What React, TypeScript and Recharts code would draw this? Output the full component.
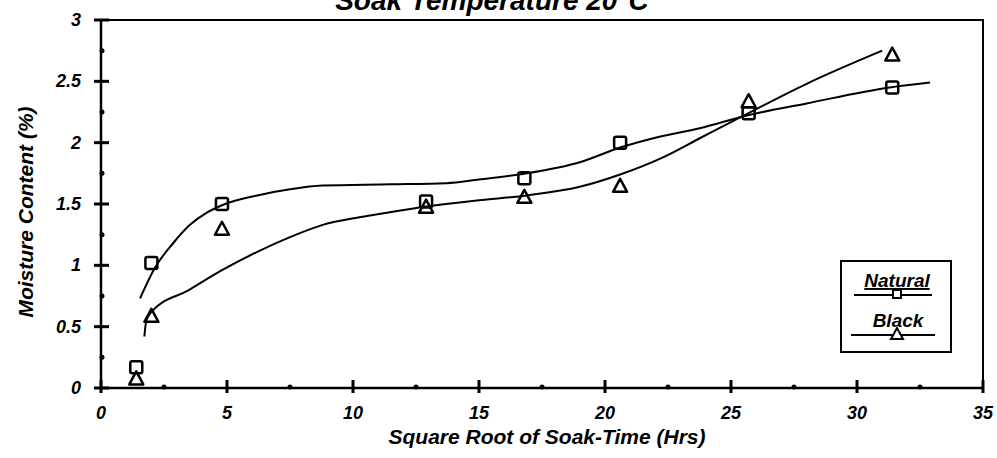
import { ComposedChart, Line, Scatter, XAxis, YAxis, ReferenceArea } from 'recharts'

// measured points (sqrt of soak time, moisture %)
const sampleX = [1.4, 2.0, 4.8, 12.9, 16.8, 20.6, 25.7, 31.4]
const naturalY = [0.17, 1.02, 1.5, 1.52, 1.71, 2.0, 2.24, 2.45]
const blackY = [0.07, 0.58, 1.29, 1.47, 1.55, 1.64, 2.33, 2.71]

// fitted curves
const naturalFitX = [1.55, 2.14, 2.86, 3.53, 4.2, 4.8, 6.2, 7.5, 8.8, 11.5, 13.7, 15.0, 16.9, 19.0, 20.6, 21.8, 23.8, 25.6, 28.0, 31.3, 32.9]
const naturalFitY = [0.73, 0.98, 1.18, 1.33, 1.43, 1.49, 1.57, 1.62, 1.65, 1.66, 1.67, 1.7, 1.75, 1.84, 1.96, 2.03, 2.12, 2.22, 2.32, 2.45, 2.49]
const blackFitX = [1.72, 1.8, 2.0, 3.5, 4.8, 6.2, 7.5, 8.8, 10.2, 11.1, 12.9, 15.0, 16.9, 19.0, 20.6, 22.3, 23.8, 25.4, 28.0, 31.0]
const blackFitY = [0.42, 0.55, 0.62, 0.8, 0.96, 1.11, 1.23, 1.33, 1.39, 1.42, 1.48, 1.53, 1.57, 1.64, 1.74, 1.88, 2.04, 2.21, 2.48, 2.75]

const xTicks = [0, 2.5, 5, 7.5, 10, 12.5, 15, 17.5, 20, 22.5, 25, 27.5, 30, 32.5, 35]
const yTicks = [0, 0.25, 0.5, 0.75, 1, 1.25, 1.5, 1.75, 2, 2.25, 2.5, 2.75, 3]

const natural = sampleX.map((x, i) => ({ x, y: naturalY[i] }))
const black = sampleX.map((x, i) => ({ x, y: blackY[i] }))
const naturalFit = naturalFitX.map((x, i) => ({ x, y: naturalFitY[i] }))
const blackFit = blackFitX.map((x, i) => ({ x, y: blackFitY[i] }))

const FONT = '"Liberation Sans", Arial, sans-serif'
const labelStyle = { fontFamily: FONT, fontWeight: 700, fontStyle: 'italic' as const, fill: '#000' }

const Square = ({ cx, cy }: any) => (
  <rect x={cx - 6} y={cy - 6} width={12} height={12} rx={2} fill="none" stroke="#000" strokeWidth={2.5} />
)

const Triangle = ({ cx, cy }: any) => (
  <polygon points={`${cx},${cy - 8} ${cx + 7},${cy + 5} ${cx - 7},${cy + 5}`} fill="none" stroke="#000" strokeWidth={2.5} strokeLinejoin="round" />
)

// crosses on major ticks, dots on minor ones
const renderYTick = (props: any) => {
  const x = Number(props.x)
  const y = Number(props.y)
  const v = props.payload.value
  const major = v % 0.5 === 0
  return (
    <g key={`yt-${v}`}>
      {major
        ? <rect x={x - 7} y={y - 1.5} width={15} height={3} fill="#000" />
        : <circle cx={x + 1} cy={y} r={2.5} fill="#000" />}
      {major && (
        <text x={x - 20} y={y + 6} textAnchor="end" fontSize={18} {...labelStyle}>
          {v}
        </text>
      )}
    </g>
  )
}

const renderXTick = (props: any) => {
  const x = Number(props.x)
  const y = Number(props.y)
  const v = props.payload.value
  const major = v % 5 === 0
  return (
    <g key={`xt-${v}`}>
      {major
        ? <rect x={x - 1.5} y={y - 8} width={3} height={13} fill="#000" />
        : <circle cx={x} cy={y - 1} r={2.5} fill="#000" />}
      {major && (
        <text x={x} y={y + 31} textAnchor="middle" fontSize={18} {...labelStyle}>
          {v}
        </text>
      )}
    </g>
  )
}

export default function App() {
  return (
    <div style={{ position: 'absolute', left: 0, top: 0, width: 997, height: 458, background: '#fff', overflow: 'hidden' }}>
      <div style={{ position: 'absolute', left: 0, width: 984, top: -13, textAlign: 'center', fontFamily: FONT, fontWeight: 700, fontStyle: 'italic', fontSize: 28, lineHeight: '28px', whiteSpace: 'nowrap' }}>
        Soak Temperature 20°C
      </div>

      <ComposedChart width={997} height={458} margin={{ top: 20, right: 14, bottom: 40, left: 41 }}>
        <ReferenceArea x1={0} x2={35} y1={0} y2={3} fill="none" stroke="#000" strokeWidth={2} />
        <XAxis dataKey="x" type="number" domain={[0, 35]} ticks={xTicks} interval={0} tick={renderXTick} tickLine={false} tickSize={0} tickMargin={0} axisLine={{ stroke: '#000', strokeWidth: 2.5 }} height={30} />
        <YAxis dataKey="y" type="number" domain={[0, 3]} ticks={yTicks} interval={0} tick={renderYTick} tickLine={false} tickSize={0} tickMargin={0} axisLine={{ stroke: '#000', strokeWidth: 2.5 }} width={60} />
        <Line data={naturalFit} dataKey="y" type="monotone" stroke="#000" strokeWidth={2} dot={false} isAnimationActive={false} />
        <Line data={blackFit} dataKey="y" type="monotone" stroke="#000" strokeWidth={2} dot={false} isAnimationActive={false} />
        <Scatter data={natural} dataKey="y" shape={<Square />} isAnimationActive={false} />
        <Scatter data={black} dataKey="y" shape={<Triangle />} isAnimationActive={false} />
      </ComposedChart>

      <div style={{ position: 'absolute', left: 26, top: 212, transform: 'translate(-50%, -50%) rotate(-90deg)', whiteSpace: 'nowrap', fontFamily: FONT, fontWeight: 700, fontStyle: 'italic', fontSize: 21 }}>
        Moisture Content (%)
      </div>
      <div style={{ position: 'absolute', left: 547, top: 437, transform: 'translate(-50%, -50%)', whiteSpace: 'nowrap', fontFamily: FONT, fontWeight: 700, fontStyle: 'italic', fontSize: 21 }}>
        Square Root of Soak-Time (Hrs)
      </div>

      {/* legend */}
      <div style={{ position: 'absolute', left: 840, top: 260, width: 108, height: 89, border: '2px solid #000' }}>
        <svg width={108} height={89} style={{ position: 'absolute', left: 0, top: 0 }}>
          <text x={55} y={25} textAnchor="middle" fontSize={19} textDecoration="underline" {...labelStyle}>Natural</text>
          <line x1={12} x2={90} y1={33} y2={33} stroke="#000" strokeWidth={2} />
          <rect x={51} y={28} width={8} height={8} fill="#fff" stroke="#000" strokeWidth={2} />
          <text x={56} y={65} textAnchor="middle" fontSize={19} {...labelStyle}>Black</text>
          <line x1={9} x2={93} y1={73} y2={73} stroke="#000" strokeWidth={2} />
          <polygon points="55,66 61,77 49,77" fill="#fff" stroke="#000" strokeWidth={2} />
        </svg>
      </div>
    </div>
  )
}
